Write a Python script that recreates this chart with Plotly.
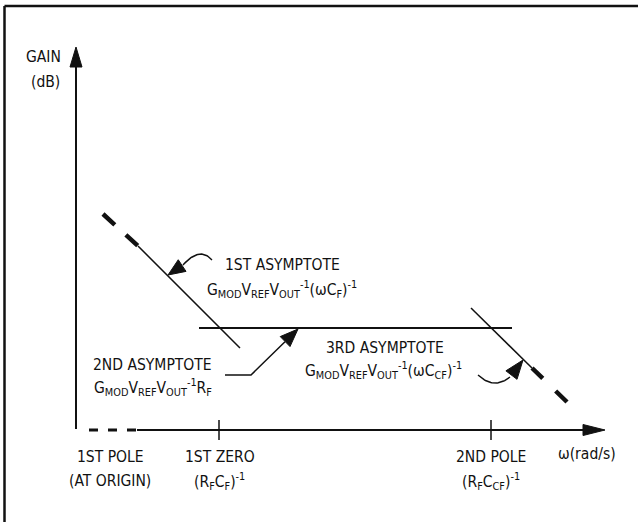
import math
import plotly.graph_objects as go

# ---- Bode asymptote sketch ----
# units: pixels right / up from the axis origin (omega = 0, gain = 0)
axis_x_end = 529
axis_y_end = 383
pole1_dash_x = [13, 61]             # dashed start of the omega axis
tick_x = [143, 415]                 # 1st zero, 2nd pole
tick_top = [10, 10]
tick_bottom = [-10, -10]

asym1_dash_x = [27, 62]
asym1_dash_y = [216, 184]
asym1_x = [62, 164]
asym1_y = [184, 82]

asym2_x = [123, 436]
asym2_y = [102, 102]

asym3_x = [395, 456]
asym3_y = [122, 62]
asym3_dash_x = [456, 491]
asym3_dash_y = [62, 28]

# callout arrows
call1_curve = [(136, 170), (124, 184), (107, 165)]   # start, control, end
call1_tip = (92, 155)
call2_path_x = [149, 175]
call2_path_y = [55, 55]
call2_tip = (222, 101)
call3_curve = [(402, 55), (418, 40), (434, 53)]
call3_tip = (447, 70)

# text
gain_label = ["GAIN", "(dB)"]
asym_titles = ["1ST ASYMPTOTE", "2ND ASYMPTOTE", "3RD ASYMPTOTE"]
asym_formulas = [
    "G<sub>MOD</sub>V<sub>REF</sub>V<sub>OUT</sub><sup>-1</sup>(ωC<sub>F</sub>)<sup>-1</sup>",
    "G<sub>MOD</sub>V<sub>REF</sub>V<sub>OUT</sub><sup>-1</sup>R<sub>F</sub>",
    "G<sub>MOD</sub>V<sub>REF</sub>V<sub>OUT</sub><sup>-1</sup>(ωC<sub>CF</sub>)<sup>-1</sup>",
]
axis_labels_top = ["1ST POLE", "1ST ZERO", "2ND POLE"]
axis_labels_bottom = ["(AT ORIGIN)",
                      "(R<sub>F</sub>C<sub>F</sub>)<sup>-1</sup>",
                      "(R<sub>F</sub>C<sub>CF</sub>)<sup>-1</sup>"]
axis_label_x = [34, 143.5, 415]
omega_label = "ω(rad/s)"

FONT = "DejaVu Sans Condensed, Liberation Sans Narrow, sans-serif"
FSIZE = 15.5
INK = "#111111"

fig = go.Figure()


def line(xs, ys, width, dash=None):
    fig.add_trace(go.Scatter(x=xs, y=ys, mode="lines",
                             line=dict(color=INK, width=width, dash=dash),
                             hoverinfo="skip", showlegend=False))


def head(tip, frm, length, half):
    dx, dy = tip[0] - frm[0], tip[1] - frm[1]
    n = math.hypot(dx, dy)
    ux, uy = dx / n, dy / n
    bx, by = tip[0] - ux * length, tip[1] - uy * length
    px, py = -uy, ux
    xs = [tip[0], bx + px * half, bx - px * half, tip[0]]
    ys = [tip[1], by + py * half, by - py * half, tip[1]]
    fig.add_trace(go.Scatter(x=xs, y=ys, mode="lines", fill="toself",
                             fillcolor=INK, line=dict(color=INK, width=1),
                             hoverinfo="skip", showlegend=False))
    return bx, by


def bezier(p0, c, p2, width):
    xs, ys = [], []
    for i in range(31):
        t = i / 30
        xs.append((1 - t) ** 2 * p0[0] + 2 * (1 - t) * t * c[0] + t ** 2 * p2[0])
        ys.append((1 - t) ** 2 * p0[1] + 2 * (1 - t) * t * c[1] + t ** 2 * p2[1])
    line(xs, ys, width)


# axes
line([0, 0], [1, axis_y_end - 18], 2)
head((0, axis_y_end), (0, 0), 20, 6)
line(pole1_dash_x, [0, 0], 3, "9px,10px")
line([pole1_dash_x[1], axis_x_end - 18], [0, 0], 1.8)
head((axis_x_end, 0), (0, 0), 22, 5.5)
for tx, t0, t1 in zip(tick_x, tick_top, tick_bottom):
    line([tx, tx], [t1, t0], 1.5)

# asymptotes
line(asym1_dash_x, asym1_dash_y, 4.5, "16px,15px,16px")
line(asym1_x, asym1_y, 1.5)
line(asym2_x, asym2_y, 2)
line(asym3_x, asym3_y, 1.5)
line(asym3_dash_x, asym3_dash_y, 4.5, "15px,18px,16px")

# callouts
bezier(*call1_curve, 1.5)
head(call1_tip, call1_curve[2], 17, 7)
bx, by = call2_tip[0] - 13, call2_tip[1] - 12.7
line(call2_path_x + [bx], call2_path_y + [by], 1.5)
head(call2_tip, (call2_path_x[1], call2_path_y[1]), 18, 7)
bezier(*call3_curve, 1.5)
head(call3_tip, call3_curve[2], 19, 7)

# frame (top and left only are in view)
line([-71.5, 562], [424, 424], 2.5)
line([-71.5, -71.5], [-92, 424], 2.5)

ann = []


def text(x, y, s, xanchor="center"):
    ann.append(dict(x=x, y=y, text=s, showarrow=False, xanchor=xanchor,
                    yanchor="middle", font=dict(family=FONT, size=FSIZE, color=INK)))


text(-13, 373, gain_label[0], "right")
text(-14, 348, gain_label[1], "right")
text(206.5, 165, asym_titles[0])
text(205.5, 141, asym_formulas[0])
text(76.5, 65, asym_titles[1])
text(76.5, 43, asym_formulas[1])
text(308.5, 82, asym_titles[2])
text(307, 60, asym_formulas[2])
for x, a, b in zip(axis_label_x, axis_labels_top, axis_labels_bottom):
    text(x, -27, a)
    text(x, -51, b)
text(510.5, -24, omega_label)

fig.update_layout(
    width=638, height=522,
    margin=dict(l=0, r=0, t=0, b=0),
    paper_bgcolor="white", plot_bgcolor="white",
    xaxis=dict(range=[-76, 562], visible=False, fixedrange=True),
    yaxis=dict(range=[-92, 430], visible=False, fixedrange=True),
    annotations=ann,
    showlegend=False,
)
fig.write_html("out.html",
               config={"displayModeBar": False, "staticPlot": True},
               post_script="document.body.style.margin='0';document.body.style.overflow='hidden';")
